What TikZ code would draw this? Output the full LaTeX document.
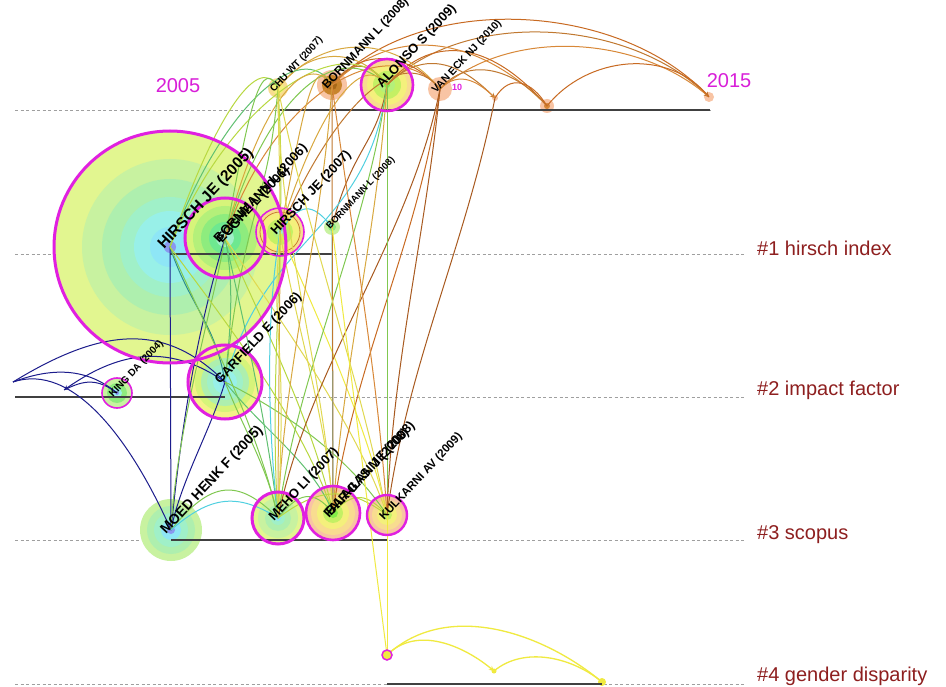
\documentclass[tikz,border=0pt]{standalone}
\usepackage{fontspec}
\setmainfont{Liberation Sans}
\usetikzlibrary{arrows.meta}
% node band colours
\definecolor{mag}{HTML}{E020E0}
\definecolor{yearmag}{HTML}{D81ED8}
\definecolor{clu}{HTML}{8E1F1F}
\definecolor{ygA}{HTML}{E2F690}
\definecolor{lgA}{HTML}{C8F2A0}
\definecolor{grA}{HTML}{AEEFAE}
\definecolor{miA}{HTML}{A0F0C8}
\definecolor{cyA}{HTML}{98F0E8}
\definecolor{cyB}{HTML}{8EE6F6}
\definecolor{blA}{HTML}{8A98F0}
\definecolor{yeA}{HTML}{F4F288}
\definecolor{ygB}{HTML}{D6F47A}
\definecolor{gbB}{HTML}{B4F07A}
\definecolor{gbC}{HTML}{8EEC7E}
\definecolor{gbD}{HTML}{6EE890}
\definecolor{orA}{HTML}{F8C4A4}
\definecolor{orB}{HTML}{F8DC90}
\definecolor{yeB}{HTML}{F4F07C}
\definecolor{gbE}{HTML}{C4F064}
\definecolor{grE}{HTML}{84EE48}
\definecolor{brA}{HTML}{C8842C}
\definecolor{brB}{HTML}{A86818}
% link colours
\definecolor{navy}{HTML}{1C1C8C}
\definecolor{tealk}{HTML}{2E8C8C}
\definecolor{lkA}{HTML}{B8D840}
\definecolor{lkB}{HTML}{80C850}
\definecolor{lkC}{HTML}{D8A840}
\definecolor{lkD}{HTML}{C07830}
\definecolor{lkE}{HTML}{E0D850}
\definecolor{lkF}{HTML}{50D0E0}
\definecolor{lkG}{HTML}{A85A20}
\definecolor{lkH}{HTML}{D88838}
\definecolor{lkI}{HTML}{60C070}
\definecolor{lkY}{HTML}{F0EA40}
\definecolor{lkJ}{HTML}{C86A22}
\newcommand{\cnode}[4]{\node[circle,inner sep=0pt,minimum size={2*#4pt}] (#1) at (#2,#3) {};}
\newcommand{\bands}[2]{\foreach \rr/\cc in {#2} {\fill[\cc] (#1.center) circle[radius=\rr pt];}}
\begin{document}
\begin{tikzpicture}[x=1pt,y=-1pt,
  dashline/.style={draw=gray!75, dash pattern=on 3pt off 2.5pt, line width=0.7pt},
  rowline/.style={draw=black!75, line width=1.2pt},
  lk/.style={line width=1pt},
  magring/.style={draw=mag, line width=#1},
  lab/.style={font=\bfseries\fontsize{#1}{#1}\selectfont, anchor=base west, rotate=47, inner sep=0pt, text=black},
  clulab/.style={font=\fontsize{20}{20}\selectfont, text=clu, anchor=west, inner sep=0pt},
  yearlab/.style={font=\fontsize{20}{20}\selectfont, text=yearmag, anchor=center, inner sep=0pt},
  tip/.style={-{Stealth[length=5pt,width=5pt]}}]
\clip (0,0) rectangle (946,687);
\fill[white] (0,0) rectangle (946,687);

% timeline rows (dashed)
\draw[dashline] (15,110) -- (712,110);
\draw[dashline] (15,254) -- (745,254);
\draw[dashline] (15,397) -- (745,397);
\draw[dashline] (15,540) -- (745,540);
\draw[dashline] (15,684) -- (745,684);

% node placeholders
\cnode{hirschA}{170}{247}{116}
\cnode{egghe}{225}{238}{40}
\cnode{hirschB}{280}{232}{24}
\cnode{bornC}{332}{227}{8}
\cnode{garfield}{225}{382}{37}
\cnode{king}{117}{393}{15}
\cnode{moed}{171}{530}{31}
\cnode{meho}{278}{518}{26}
\cnode{falagas}{333}{513}{27}
\cnode{kulkarni}{387}{515}{20}
\cnode{chu}{278}{88}{10}
\cnode{bornB}{332}{85}{15}
\cnode{alonso}{387}{85}{26}
\cnode{vaneck}{440}{89}{12}
\cnode{tA}{495}{98}{3}
\cnode{tB}{547}{106}{7}
\cnode{tC}{709}{97}{5}
\cnode{gA}{387}{655}{5}
\cnode{gB}{494}{671}{3}
\cnode{gC}{602}{682}{4}
\coordinate (lft) at (13,382);
\coordinate (arr) at (64,390);

% node discs
\bands{hirschA}{116/ygA,88/lgA,68/grA,50/miA,36/cyA,20/cyB,6/blA}
\bands{egghe}{40/ygB,32/gbB,24/gbC,16/gbD,9/miA,4/cyA}
\bands{hirschB}{24/orB,19/yeB,13/gbE,7/gbB,3/miA}
\bands{bornC}{8/lgA,4/gbC}
\bands{garfield}{37/yeA,30/ygB,24/grA,18/miA,12/cyA,6/cyB,2/blA}
\bands{king}{15/lgA,10/gbC,5/cyA,2/blA}
\bands{moed}{31/lgA,24/grA,17/miA,10/cyB,4/blA}
\bands{meho}{26/ygA,20/lgA,13/grA,7/miA,3/cyB}
\bands{falagas}{27/orA,22/orB,16/yeB,10/gbE,5/grE}
\bands{kulkarni}{20/orA,15/orB,10/yeB,5/gbE}
\bands{chu}{10/orB,6/yeB}
\bands{bornB}{15/orA,10/brA,5/brB}
\bands{alonso}{26/orB,20/yeB,14/gbE,8/gbB,3/grE}
\bands{vaneck}{12/orA}
\bands{tA}{3/orA}
\bands{tB}{7/orA,3/lkH}
\bands{tC}{5/orA}
\bands{gA}{5/lkY}
\bands{gB}{2.5/lkY}
\bands{gC}{4/lkY}
\draw[brA, line width=0.8pt] (hirschB.center) circle[radius=20pt];

% solid year spans
\draw[rowline] (278,110) -- (710,110);
\draw[rowline] (170,254) -- (333,254);
\draw[rowline] (15,397) -- (225,397);
\draw[rowline] (171,540) -- (387,540);
\draw[rowline] (387,684) -- (602,684);

% ---------- links ----------
% top row arcs
\draw[lk,lkJ,tip] (bornB.center) .. controls +(90,-95) and +(-90,-95) .. (tC.center);
\draw[lk,lkD,tip] (alonso.center) .. controls +(80,-78) and +(-80,-78) .. (tC.center);
\draw[lk,lkH] (vaneck.center) .. controls +(70,-62) and +(-70,-62) .. (tC.center);
\draw[lk,lkJ] (tB.center) .. controls +(40,-50) and +(-40,-50) .. (tC.center);
\draw[lk,lkJ] (alonso.center) .. controls +(50,-58) and +(-50,-58) .. (tB.center);
\draw[lk,lkH] (bornB.center) .. controls +(70,-68) and +(-60,-62) .. (tB.center);
\draw[lk,lkD] (vaneck.center) .. controls +(30,-35) and +(-30,-35) .. (tB.center);
\draw[lk,lkJ] (tA.center) .. controls +(15,-25) and +(-15,-25) .. (tB.center);
\draw[lk,lkD,tip] (alonso.center) .. controls +(40,-40) and +(-30,-30) .. (tA.center);
\draw[lk,lkH] (vaneck.center) .. controls +(20,-20) and +(-15,-15) .. (tA.center);
\draw[lk,lkC] (chu.center) .. controls +(30,-40) and +(-30,-40) .. (alonso.center);
\draw[lk,lkJ] (bornB.center) .. controls +(30,-40) and +(-30,-35) .. (vaneck.center);
\draw[lk,lkC] (chu.center) .. controls +(50,-60) and +(-40,-50) .. (vaneck.center);
\draw[lk,lkD] (bornB.center) .. controls +(20,-25) and +(-20,-25) .. (alonso.center);

% cluster 1 to top row
\draw[lk,lkA] (hirschA.center) .. controls +(40,-120) and +(-20,-40) .. (chu.center);
\draw[lk,lkI] (hirschA.center) .. controls +(50,-140) and +(-30,-50) .. (bornB.center);
\draw[lk,lkA] (hirschA.center) .. controls +(60,-150) and +(-40,-60) .. (alonso.center);
\draw[lk,lkB] (egghe.center) .. controls +(20,-100) and +(-20,-40) .. (chu.center);
\draw[lk,lkC] (egghe.center) .. controls +(30,-120) and +(-30,-40) .. (bornB.center);
\draw[lk,lkB] (egghe.center) .. controls +(40,-140) and +(-50,-50) .. (alonso.center);
\draw[lk,lkH] (egghe.center) .. controls +(50,-150) and +(-50,-60) .. (vaneck.center);
\draw[lk,lkE] (hirschB.center) .. controls +(0,-80) and +(0,40) .. (chu.center);
\draw[lk,lkC] (hirschB.center) .. controls +(20,-100) and +(-20,-40) .. (bornB.center);
\draw[lk,lkC] (hirschB.center) .. controls +(30,-100) and +(-30,-40) .. (alonso.center);
\draw[lk,lkD] (hirschB.center) .. controls +(50,-120) and +(-40,-50) .. (vaneck.center);
\draw[lk,lkG] (bornC.center) .. controls +(20,-80) and +(-10,60) .. (alonso.center);
\draw[lk,lkF] (hirschB.center) .. controls +(20,-30) and +(-20,-25) .. (bornC.center);

% cluster 2
\draw[lk,tealk] (hirschA.center) .. controls +(20,60) and +(-10,-60) .. (garfield.center);
\draw[lk,lkI] (egghe.center) .. controls +(10,50) and +(5,-50) .. (garfield.center);
\draw[lk,lkB] (garfield.center) .. controls +(20,-180) and +(-10,120) .. (chu.center);
\draw[lk,lkF] (garfield.center) .. controls +(40,-150) and +(-20,150) .. (alonso.center);
\draw[lk,navy] (garfield.center) .. controls +(-60,-60) and +(90,-55) .. (lft);
\draw[lk,navy,tip] (garfield.center) .. controls +(-60,-42) and +(50,-35) .. (arr);
\draw[lk,navy] (king.center) .. controls +(-30,-25) and +(40,-15) .. (lft);
\draw[lk,navy] (king.center) .. controls +(-20,-15) and +(20,-10) .. (arr);
\draw[lk,navy] (lft) .. controls +(60,-20) and +(-40,-90) .. (moed.center);

% cluster 3 to upper clusters
\draw[lk,navy] (hirschA.center) -- (moed.center);
\draw[lk,navy] (egghe.center) .. controls +(-30,100) and +(10,-100) .. (moed.center);
\draw[lk,navy] (garfield.center) .. controls +(-15,50) and +(10,-50) .. (moed.center);
\draw[lk,lkB] (moed.center) .. controls +(5,-100) and +(-10,60) .. (egghe.center);
\draw[lk,lkB] (hirschA.center) .. controls +(40,90) and +(-20,-90) .. (meho.center);
\draw[lk,lkA] (hirschA.center) .. controls +(60,80) and +(-30,-90) .. (falagas.center);
\draw[lk,lkI] (egghe.center) .. controls +(20,90) and +(-10,-90) .. (meho.center);
\draw[lk,lkA] (egghe.center) .. controls +(40,90) and +(-20,-90) .. (falagas.center);
\draw[lk,lkE] (egghe.center) .. controls +(60,90) and +(-30,-90) .. (kulkarni.center);
\draw[lk,lkB] (garfield.center) .. controls +(20,50) and +(-10,-50) .. (meho.center);
\draw[lk,lkI] (garfield.center) .. controls +(40,50) and +(-20,-50) .. (falagas.center);
\draw[lk,lkB] (garfield.center) .. controls +(60,30) and +(-40,-60) .. (kulkarni.center);
\draw[lk,lkE] (hirschB.center) .. controls +(15,90) and +(-5,-90) .. (falagas.center);
\draw[lk,lkY] (hirschB.center) .. controls +(40,90) and +(-20,-90) .. (kulkarni.center);
\draw[lk,lkC] (hirschB.center) .. controls +(0,90) and +(0,-90) .. (meho.center);
\draw[lk,lkF] (hirschB.center) .. controls +(-15,90) and +(-10,-90) .. (meho.center);
\draw[lk,lkF] (bornC.center) -- (falagas.center);

% cluster 3 to top row
\draw[lk,lkA] (meho.center) .. controls +(-10,-150) and +(10,150) .. (chu.center);
\draw[lk,lkC] (meho.center) .. controls +(5,-150) and +(-10,150) .. (bornB.center);
\draw[lk,lkB] (meho.center) .. controls +(20,-150) and +(-20,150) .. (alonso.center);
\draw[lk,lkG] (meho.center) .. controls +(30,-150) and +(-30,150) .. (vaneck.center);
\draw[lk,lkE] (falagas.center) .. controls +(-10,-150) and +(0,150) .. (chu.center);
\draw[lk,lkD] (falagas.center) .. controls +(0,-150) and +(0,150) .. (bornB.center);
\draw[lk,lkC] (falagas.center) .. controls +(10,-150) and +(-10,150) .. (alonso.center);
\draw[lk,lkJ] (falagas.center) .. controls +(20,-150) and +(-20,150) .. (vaneck.center);
\draw[lk,lkB] (kulkarni.center) -- (alonso.center);
\draw[lk,lkH] (kulkarni.center) .. controls +(-10,-150) and +(20,150) .. (bornB.center);
\draw[lk,lkG] (kulkarni.center) .. controls +(5,-150) and +(-15,150) .. (vaneck.center);
\draw[lk,lkG] (kulkarni.center) .. controls +(20,-150) and +(-30,150) .. (tA.center);
\draw[lk,lkE] (kulkarni.center) .. controls +(-30,-150) and +(30,150) .. (chu.center);
\draw[lk,lkE] (meho.center) .. controls +(10,-200) and +(-10,120) .. (hirschB.center);

% cluster 3 internal arcs
\draw[lk,lkB] (moed.center) .. controls +(40,-50) and +(-40,-40) .. (meho.center);
\draw[lk,lkF] (moed.center) .. controls +(40,-35) and +(-40,-25) .. (meho.center);
\draw[lk,lkB] (meho.center) .. controls +(20,-25) and +(-20,-25) .. (falagas.center);
\draw[lk,lkA] (meho.center) .. controls +(40,-30) and +(-40,-30) .. (kulkarni.center);
\draw[lk,lkA] (falagas.center) .. controls +(20,-22) and +(-20,-22) .. (kulkarni.center);

% cluster 4
\draw[lk,lkY] (bornC.center) -- (gA.center);
\draw[lk,lkY] (kulkarni.center) -- (gA.center);
\draw[lk,lkY,line width=1.3pt] (gA.center) .. controls +(60,-55) and +(-60,-50) .. (gC.center);
\draw[lk,lkY,line width=1.3pt,tip] (gA.center) .. controls +(30,-30) and +(-30,-25) .. (gB.center);
\draw[lk,lkY,line width=1.3pt] (gB.center) .. controls +(30,-25) and +(-30,-25) .. (gC.center);

% magenta rings
\draw[magring=3pt] (hirschA.center) circle[radius=116pt];
\draw[magring=3pt] (egghe.center) circle[radius=40pt];
\draw[magring=1.6pt] (hirschB.center) circle[radius=24pt];
\draw[magring=3pt] (garfield.center) circle[radius=37pt];
\draw[magring=1.6pt] (king.center) circle[radius=15pt];
\draw[magring=3pt] (meho.center) circle[radius=26pt];
\draw[magring=2.6pt] (falagas.center) circle[radius=27pt];
\draw[magring=2.4pt] (kulkarni.center) circle[radius=20pt];
\draw[magring=2.6pt] (alonso.center) circle[radius=26pt];
\draw[magring=1.5pt] (gA.center) circle[radius=5pt];

% node labels
\node[lab=15.5] (lhA) at (164,250) {HIRSCH JE (2005)};
\node[lab=13] (leA) at (219,244) {BORNMANN L (2006)};
\node[lab=13] (leB) at (222,244) {EGGHE L (2006)};
\node[lab=13] (lhB) at (276,236) {HIRSCH JE (2007)};
\node[lab=9.5] (lbC) at (330,230) {BORNMANN L (2008)};
\node[lab=13] (lga) at (220,385) {GARFIELD E (2006)};
\node[lab=10] (lki) at (113,398) {KING DA (2004)};
\node[lab=14] (lmo) at (166,535) {MOED HENK F (2005)};
\node[lab=13] (lme) at (274,522) {MEHO LI (2007)};
\node[lab=13] (lfa) at (329,519) {FALAGAS ME (2008)};
\node[lab=13] (lba) at (331,517) {BAR-ILAN J (2008)};
\node[lab=11.5] (lku) at (384,521) {KULKARNI AV (2009)};
\node[lab=10] (lch) at (274,93) {CHU WT (2007)};
\node[lab=12] (lbB) at (327,90) {BORNMANN L (2008)};
\node[lab=13] (lal) at (382,89) {ALONSO S (2009)};
\node[lab=10.5] (lva) at (436,94) {VAN ECK NJ (2010)};
\node[font=\bfseries\fontsize{9}{9}\selectfont, text=mag, anchor=west, inner sep=0pt] (lten) at (452,87) {10};

% year labels
\node[yearlab] (yA) at (178,86) {2005};
\node[yearlab] (yB) at (729,81) {2015};

% cluster labels
\node[clulab] (c1) at (757,248) {\#1 hirsch index};
\node[clulab] (c2) at (757,390) {\#2 impact factor};
\node[clulab] (c3) at (757,535) {\#3 scopus};
\node[clulab] (c4) at (757,676) {\#4 gender disparity};
\end{tikzpicture}
\end{document}
